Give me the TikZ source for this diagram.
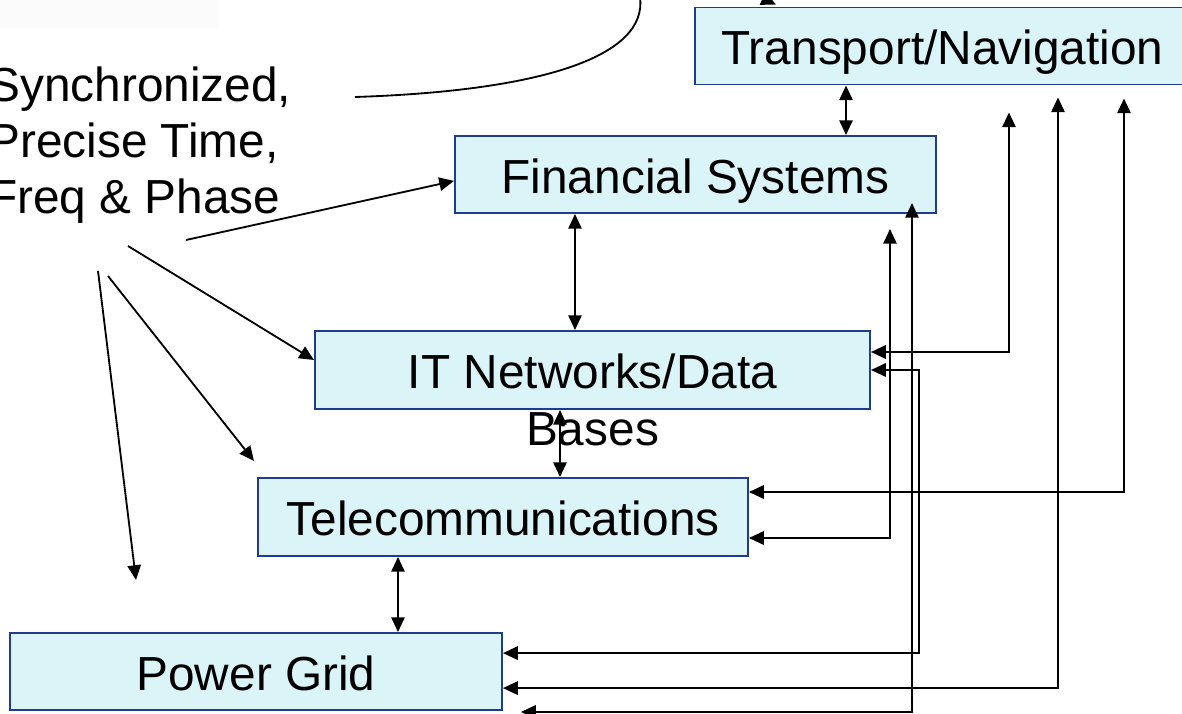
\documentclass[tikz,border=0pt]{standalone}
\usepackage{fontspec}
\setmainfont{Liberation Sans}
\usetikzlibrary{arrows.meta}
\definecolor{boxfill}{HTML}{DBF4F8}
\definecolor{boxline}{HTML}{1F3C91}
\tikzset{
	blk/.style={draw=boxline, fill=boxfill, line width=1.4pt, text height=27pt, text depth=0pt, inner sep=0pt},
	link/.style={<->, line width=1.4pt},
	feed/.style={->, line width=1.3pt}
}
\begin{document}
\begin{tikzpicture}[font=\fontsize{34}{40}\selectfont, >={Triangle[length=10.5pt,width=9.5pt]}]
		\useasboundingbox (0,0) rectangle (29.55,17.825);
		\clip (0,0) rectangle (29.55,17.825);
		\fill[black!1.5] (-0.1,17.125) rectangle (5.45,18);

		\draw (23.5625,16.675) node[blk, minimum width=12.375cm, minimum height=1.925cm] (trans) {Transport/Navigation};
		\draw (17.3875,13.4625) node[blk, minimum width=12.025cm, minimum height=1.925cm] (fin) {Financial Systems};
		\draw (14.8125,8.575) node[blk, minimum width=13.875cm, minimum height=1.95cm] (it) {IT Networks/Data};
		\draw (12.575,4.9) node[blk, minimum width=12.25cm, minimum height=1.95cm] (tel) {Telecommunications};
		\draw (6.4,1.0375) node[blk, minimum width=12.3cm, minimum height=1.925cm] (pow) {Power Grid};
		\draw ([yshift=-1.425cm]it.base) node[anchor=base] (bases) {Bases};

		\draw (-0.3,14.19) node[anchor=west, align=left, inner sep=0pt] (sync) {Synchronized,\\Precise Time,\\Freq \& Phase};

		\coordinate (c0) at (8.875,15.4);
		\coordinate (s1) at (4.65,11.825);
		\coordinate (s2) at (3.2,11.675);
		\coordinate (s3) at (2.7,10.925);
		\coordinate (s4) at (2.45,11.05);

		\draw [feed] (c0) .. controls (13.5,15.55) and (16.2,16.4) .. (16,17.9) .. controls (15.8,19.4) and (18.3,18.2) .. ([xshift=2.05cm,yshift=0.05cm]trans.north west);
		\draw [feed] (s1) -- ([yshift=-0.16cm]fin.west);
		\draw [feed] (s2) -- ([yshift=0.25cm]it.west);
		\draw [feed] (s3) -- ([shift={(-0.075,0.4)}]tel.north west);
		\draw [feed] (s4) -- ([shift={(3.175,1.3)}]pow.north west);

		\draw [link] (21.15,0 |- trans.south) -- (21.15,0 |- fin.north);
		\draw [link] (14.375,0 |- fin.south) -- (14.375,0 |- it.north);
		\draw [link] (14,0 |- it.south) -- (14,0 |- tel.north);
		\draw [link] (9.95,0 |- tel.south) -- (9.95,0 |- pow.north);

		\draw [link] ([yshift=0.45cm]it.east) -| ([shift={(-4.55,-0.675)}]trans.south east);
		\draw [link] (it.east) -- ++(1.2,0) |- ([yshift=0.46cm]pow.east);
		\draw [link] ([shift={(-0.625,0.275)}]fin.south east) |- ([shift={(0.45,-0.025)}]pow.south east);
		\draw [link] ([shift={(-1.175,-0.375)}]fin.south east) |- ([yshift=-0.525cm]tel.east);
		\draw [link] ([yshift=0.625cm]tel.east) -| ([shift={(-1.675,-0.325)}]trans.south east);
		\draw [link] ([yshift=-0.415cm]pow.east) -| ([shift={(-3.325,-0.3)}]trans.south east);
	\end{tikzpicture}
\end{document}
